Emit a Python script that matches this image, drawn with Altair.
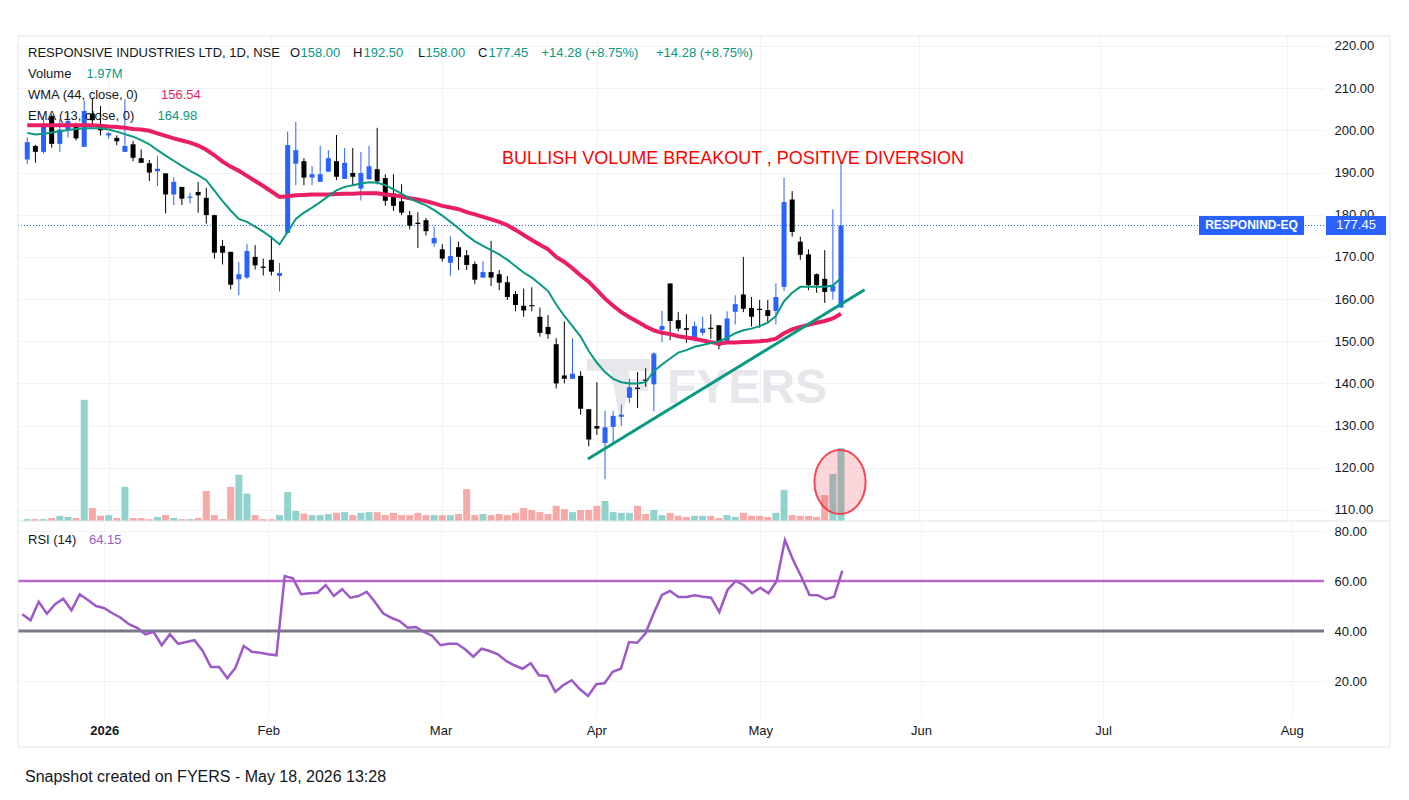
import altair as alt
import pandas as pd

# ---------------- data ----------------
OPEN = [193.1, 196.3, 194.9, 203.2, 196.8, 200.2, 201.2, 196.1, 204.0, 201.0,
        198.8, 198.2, 194.9, 196.7, 193.4, 192.2, 190.3, 189.8, 184.8, 186.6,
        184.0, 185.4, 184.0, 179.9, 172.6, 171.2, 164.7, 165.1, 170.0, 167.7,
        169.3, 165.5, 175.7, 192.1, 192.7, 188.8, 187.8, 190.2, 192.7, 188.5,
        189.9, 186.2, 188.4, 190.8, 188.7, 185.1, 183.2, 179.9, 178.1, 178.7,
        173.2, 171.8, 168.6, 172.3, 170.4, 168.3, 165.1, 166.4, 165.9, 164.0,
        161.2, 158.4, 158.6, 155.8, 153.4, 149.3, 141.9, 141.1, 141.8, 133.9,
        129.9, 125.9, 129.7, 132.1, 136.6, 139.0, 140.9, 139.8, 152.7, 163.7,
        155.0, 153.1, 150.6, 152.0, 153.2, 153.8, 149.8, 157.0, 161.1, 157.9,
        157.7, 157.4, 157.2, 162.9, 183.6, 173.6, 170.6, 165.9, 164.8, 161.8,
        158.0]
HIGH = [198.3, 196.6, 203.4, 203.8, 202.6, 204.2, 201.8, 207.0, 207.5, 205.8,
        199.6, 198.8, 207.4, 197.5, 195.5, 193.0, 193.9, 189.8, 188.9, 186.6,
        185.2, 187.8, 186.4, 180.0, 174.0, 171.2, 168.8, 173.1, 172.8, 169.6,
        174.9, 168.6, 199.7, 202.0, 193.4, 191.5, 196.3, 195.3, 198.9, 195.8,
        195.8, 194.9, 196.3, 200.6, 189.6, 189.6, 187.2, 180.9, 180.6, 179.2,
        177.2, 173.0, 174.9, 173.6, 171.6, 168.9, 169.0, 173.8, 166.9, 165.5,
        161.9, 162.5, 162.8, 158.0, 156.2, 150.7, 154.7, 150.7, 142.9, 133.9,
        140.3, 133.5, 133.5, 135.0, 141.1, 142.7, 143.6, 147.4, 157.2, 163.7,
        156.9, 156.4, 154.7, 155.8, 156.4, 153.8, 157.1, 160.9, 170.0, 160.5,
        159.8, 159.8, 163.7, 188.8, 185.6, 174.8, 171.8, 166.1, 171.6, 181.3,
        192.5]
LOW = [192.0, 192.3, 194.5, 195.9, 194.9, 198.3, 197.6, 196.1, 201.5, 198.8,
       198.0, 196.5, 194.9, 192.7, 192.3, 188.0, 186.8, 180.3, 182.3, 182.3,
       182.7, 180.5, 177.9, 169.6, 168.2, 162.3, 160.9, 164.8, 167.0, 165.6,
       165.6, 161.8, 175.7, 187.0, 187.0, 187.0, 187.8, 190.2, 188.2, 188.5,
       186.8, 183.4, 188.4, 187.2, 182.1, 180.9, 179.9, 176.5, 172.1, 175.1,
       172.4, 168.9, 165.5, 166.9, 166.9, 163.6, 165.1, 163.1, 162.1, 159.8,
       157.1, 155.8, 157.1, 151.1, 150.6, 138.8, 140.0, 141.1, 132.6, 125.1,
       127.8, 117.3, 125.9, 129.9, 135.4, 134.2, 139.2, 133.4, 149.8, 150.3,
       152.4, 149.6, 150.0, 151.4, 150.6, 148.1, 149.3, 154.0, 156.9, 153.5,
       153.2, 154.6, 154.0, 161.9, 174.8, 169.3, 162.1, 161.5, 159.1, 159.9,
       158.0]
CLOSE = [197.2, 194.9, 201.4, 196.8, 200.2, 202.2, 198.1, 204.6, 202.4, 200.0,
         199.3, 197.4, 196.3, 193.5, 192.3, 190.0, 190.9, 184.8, 187.8, 183.8,
         184.3, 184.6, 179.9, 171.0, 171.0, 163.4, 165.9, 171.4, 168.0, 167.4,
         166.5, 166.2, 196.5, 195.3, 188.8, 189.6, 189.6, 193.4, 189.0, 192.3,
         189.0, 189.9, 191.5, 187.9, 183.3, 182.1, 180.5, 177.4, 177.8, 176.1,
         174.5, 169.6, 170.2, 170.0, 168.1, 164.6, 166.4, 165.1, 163.9, 160.5,
         158.6, 157.3, 158.3, 152.0, 151.7, 140.0, 141.1, 142.3, 134.0, 126.7,
         129.3, 129.6, 132.3, 132.6, 139.1, 138.7, 140.6, 147.1, 153.6, 154.8,
         153.0, 152.7, 153.6, 153.0, 152.9, 149.0, 155.4, 158.8, 157.7, 155.8,
         157.4, 156.0, 160.5, 183.0, 175.9, 170.5, 163.3, 163.3, 161.7, 163.1,
         177.45]
VOLUME_M = [0.05, 0.05, 0.05, 0.08, 0.14, 0.11, 0.08, 3.27, 0.35, 0.14,
            0.16, 0.08, 0.92, 0.08, 0.08, 0.05, 0.11, 0.16, 0.08, 0.05,
            0.05, 0.08, 0.81, 0.16, 0.05, 0.92, 1.25, 0.74, 0.16, 0.05,
            0.05, 0.16, 0.78, 0.27, 0.20, 0.16, 0.16, 0.19, 0.22, 0.24,
            0.16, 0.22, 0.24, 0.24, 0.16, 0.22, 0.16, 0.16, 0.22, 0.16,
            0.16, 0.16, 0.16, 0.19, 0.86, 0.16, 0.19, 0.16, 0.19, 0.16,
            0.22, 0.35, 0.30, 0.24, 0.19, 0.41, 0.32, 0.24, 0.30, 0.30,
            0.41, 0.54, 0.24, 0.22, 0.22, 0.41, 0.19, 0.30, 0.16, 0.22,
            0.14, 0.11, 0.14, 0.14, 0.14, 0.08, 0.16, 0.11, 0.22, 0.14,
            0.14, 0.11, 0.22, 0.84, 0.16, 0.14, 0.14, 0.11, 0.70, 1.27,
            1.97]
EMA13 = [199.4, 199.0, 199.2, 199.5, 199.8, 200.1, 200.3, 200.5, 200.5, 200.5,
         200.2, 199.7, 199.1, 198.5, 197.7, 196.7, 195.3, 194.0, 192.8, 191.6,
         190.4, 189.4, 188.2, 185.7, 183.2, 181.0, 179.0, 178.3, 177.2, 176.0,
         174.6, 173.0, 175.9, 179.0, 180.5, 181.7, 183.0, 184.4, 185.8, 186.6,
         187.0, 187.4, 187.7, 187.6, 187.0, 186.0, 185.0, 183.8, 183.0, 182.2,
         181.1, 179.8, 178.3, 176.8, 175.1, 173.7, 172.6, 171.6, 170.6, 169.3,
         167.8, 166.3, 165.1, 163.5, 161.9, 158.7, 156.0, 153.6, 151.1, 147.7,
         144.9, 142.7, 141.1, 140.3, 140.0, 140.0, 140.3, 142.9, 144.5, 145.9,
         147.3, 147.9, 148.7, 149.1, 149.6, 150.0, 150.8, 151.9, 152.6, 153.0,
         153.6, 154.4, 156.0, 159.5, 161.5, 162.9, 162.9, 162.9, 162.9, 163.2,
         164.98]
WMA44 = [201.2, 201.2, 201.2, 201.2, 201.2, 201.2, 201.2, 201.2, 201.2, 201.1,
         200.9, 200.8, 200.6, 200.3, 200.2, 199.9, 199.3, 198.7, 198.1, 197.6,
         197.1, 196.4, 195.4, 194.1, 192.6, 191.4, 190.4, 189.2, 188.0, 186.8,
         185.5, 184.2, 184.4, 184.6, 184.7, 184.8, 184.8, 184.8, 184.9, 185.0,
         185.0, 185.1, 185.1, 185.1, 184.8, 184.6, 184.3, 183.9, 183.6, 183.2,
         182.7, 182.1, 181.7, 181.3, 180.6, 180.1, 179.5, 178.9, 178.3, 177.5,
         176.4, 175.2, 174.0, 172.9, 171.8, 170.0, 168.8, 167.3, 165.6, 164.1,
         162.1, 160.1, 158.4, 156.9, 155.7, 154.6, 153.5, 152.6, 152.0, 151.7,
         151.2, 150.9, 150.6, 150.2, 149.8, 149.5, 149.7, 149.7, 149.8, 149.9,
         150.0, 150.2, 150.6, 151.9, 152.8, 153.4, 153.9, 154.4, 154.8, 155.4,
         156.54]
RSI14 = [46.7, 44.3, 51.7, 46.9, 50.7, 52.9, 48.3, 54.7, 52.4, 50.0,
         49.1, 47.1, 45.3, 42.7, 41.3, 38.7, 39.7, 34.3, 38.7, 34.9,
         35.6, 36.3, 32.0, 25.6, 25.6, 21.1, 25.3, 34.0, 31.7, 31.3,
         30.7, 30.3, 62.0, 61.1, 54.7, 55.1, 55.3, 58.4, 54.0, 56.7,
         53.3, 54.0, 55.7, 51.6, 47.1, 45.3, 44.0, 41.3, 41.6, 39.6,
         38.0, 34.3, 34.9, 34.9, 32.7, 29.7, 32.9, 32.0, 30.7, 28.0,
         26.3, 24.9, 27.1, 22.3, 22.0, 15.7, 18.4, 20.3, 16.7, 14.0,
         18.7, 19.1, 23.7, 24.9, 35.6, 35.3, 39.1, 47.1, 54.4, 56.0,
         53.6, 53.6, 54.3, 53.7, 53.3, 47.6, 56.4, 60.0, 58.3, 55.1,
         57.3, 55.1, 60.0, 76.4, 68.4, 61.7, 54.4, 54.3, 52.7, 53.7,
         64.15]

MONTH_POS = [10, 30, 51, 70, 90, 109.6, 131.8, 154.8]
MONTH_LABELS = ["2026", "Feb", "Mar", "Apr", "May", "Jun", "Jul", "Aug"]
PRICE_TICKS = [110, 120, 130, 140, 150, 160, 170, 180, 190, 200, 210, 220]
RSI_TICKS = [20, 40, 60, 80]
RSI_UPPER = [60]
RSI_LOWER = [40]
TREND_X = [68.9, 102.9]
TREND_Y = [122.1, 162.2]

# ---------------- styling / layout ----------------
FONT = "Liberation Sans, Arial, sans-serif"
TXT = "#131722"
GRID = "#f0f3fa"
FRAME = "#e0e3eb"
UP = "#2962ff"
DOWN = "#000000"
VOL_UP = "#92d2cc"
VOL_DOWN = "#f7a9a7"
TEAL = "#089981"
WMA_C = "#e91e63"
RSI_C = "#9c59c7"

W = 1306
H_MAIN = 485
H_RSI = 195
X_DOMAIN = [-0.524, 158.74]
P_DOMAIN = [107.39, 222.37]
V_DOMAIN = [0, 13.09]
R_DOMAIN = [5.6, 83.6]

df = pd.DataFrame({
    "i": list(range(len(CLOSE))),
    "open": OPEN, "high": HIGH, "low": LOW, "close": CLOSE,
    "vol": VOLUME_M, "ema": EMA13, "wma": WMA44, "rsi": RSI14,
})
df["dir"] = ["up" if c >= o else "down" for o, c in zip(OPEN, CLOSE)]
one = pd.DataFrame({"k": [0]})

xs = alt.Scale(domain=X_DOMAIN, nice=False, zero=False)
x_main = alt.X("i:Q", scale=xs, title=None,
               axis=alt.Axis(values=MONTH_POS, labels=False, ticks=False, domain=False,
                             grid=True, gridColor=GRID, title=None))
ps = alt.Scale(domain=P_DOMAIN, nice=False, zero=False)
p_axis = alt.Axis(values=PRICE_TICKS, format=".2f", orient="right", title=None,
                  ticks=False, domain=False, labelPadding=10, grid=True, gridColor=GRID,
                  labelFontSize=13, labelColor=TXT, labelFont=FONT)


def py(field):
    return alt.Y(field, scale=ps, axis=p_axis, title=None)


def label(text, x, y, color=TXT, size=13, weight="normal", align="left", font=FONT):
    return alt.Chart(one).mark_text(
        text=text, align=align, baseline="middle", fontSize=size,
        fontWeight=weight, color=color, font=font
    ).encode(x=alt.value(x), y=alt.value(y))


def frame(x1, x2, y1, y2):
    return alt.Chart(one).mark_rule(color=FRAME, strokeWidth=1).encode(
        x=alt.value(x1), x2=alt.value(x2), y=alt.value(y1), y2=alt.value(y2))


base = alt.Chart(df)
cand_color = alt.condition("datum.dir == 'up'", alt.value(UP), alt.value(DOWN))

volume = base.mark_bar(size=7).encode(
    x=x_main,
    y=alt.Y("vol:Q", scale=alt.Scale(domain=V_DOMAIN, nice=False), axis=None, title=None),
    color=alt.condition("datum.dir == 'up'", alt.value(VOL_UP), alt.value(VOL_DOWN)),
)

logo_path = ("M-0.97,-0.97 L1,-0.97 L1,-0.59 L0.34,-0.59 L0.34,-0.34 L0.94,-0.34 "
             "L0.94,0.03 L0.34,0.03 L0.06,0.97 L-0.22,-0.59 L-0.97,-0.59 Z")
logo = alt.Chart(one).mark_point(shape=logo_path, size=4096, filled=True,
                                 color="#e6e8ec", opacity=1).encode(
    x=alt.value(600), y=alt.value(354))
watermark = label("FYERS", 729, 353, color="#e5e7eb", size=48, weight="bold", align="center")

last = pd.DataFrame({"p": [CLOSE[-1]]})
price_line = alt.Chart(last).mark_rule(color=UP, strokeWidth=1, strokeDash=[1, 2]).encode(y=py("p:Q"))

wicks = base.mark_rule(strokeWidth=1).encode(x=x_main, y=py("low:Q"), y2="high:Q", color=cand_color)
bodies = base.mark_bar(size=5).encode(x=x_main, y=py("open:Q"), y2="close:Q", color=cand_color)
wma = base.mark_line(color=WMA_C, strokeWidth=4).encode(x=x_main, y=py("wma:Q"))
ema = base.mark_line(color=TEAL, strokeWidth=2).encode(x=x_main, y=py("ema:Q"))
trend = alt.Chart(pd.DataFrame({"i": TREND_X, "p": TREND_Y})).mark_line(
    color=TEAL, strokeWidth=3).encode(x=x_main, y=py("p:Q"))

ellipse_path = ("M0.8,0 C0.8,0.5523 0.4418,1 0,1 C-0.4418,1 -0.8,0.5523 -0.8,0 "
                "C-0.8,-0.5523 -0.4418,-1 0,-1 C0.4418,-1 0.8,-0.5523 0.8,0 Z")
ellipse = alt.Chart(one).mark_point(shape=ellipse_path, size=4096, filled=True,
                                    fill="#f23645", fillOpacity=0.2, stroke="#f23645",
                                    strokeWidth=2, strokeOpacity=0.9, opacity=1).encode(
    x=alt.value(822), y=alt.value(446))

annot = label("BULLISH VOLUME BREAKOUT , POSITIVE DIVERSION", 715, 123,
              color="#ff0000", size=18, align="center")

box1_path = "M-1,-0.181 L1,-0.181 L1,0.181 L-1,0.181 Z"
box2_path = "M-1,-0.317 L1,-0.317 L1,0.317 L-1,0.317 Z"
box1 = alt.Chart(last).mark_point(shape=box1_path, size=11025, filled=True, color=UP,
                                  opacity=1).encode(x=alt.value(1233.5), y=py("p:Q"))
box1_t = alt.Chart(last).mark_text(text="RESPONIND-EQ", color="white", fontWeight="bold",
                                   fontSize=12, font=FONT).encode(x=alt.value(1233.5), y=py("p:Q"))
box2 = alt.Chart(last).mark_point(shape=box2_path, size=3600, filled=True, color=UP,
                                  opacity=1).encode(x=alt.value(1338), y=py("p:Q"))
box2_t = alt.Chart(last).mark_text(color="white", fontSize=13, font=FONT).encode(
    x=alt.value(1338), y=py("p:Q"), text=alt.Text("p:Q", format=".2f"))

legend = [
    label("RESPONSIVE INDUSTRIES LTD, 1D, NSE", 10, 17),
    label("O", 272, 17), label("158.00", 282.5, 17, TEAL),
    label("H", 335, 17), label("192.50", 345.5, 17, TEAL),
    label("L", 400, 17), label("158.00", 407.5, 17, TEAL),
    label("C", 460, 17), label("177.45", 470.5, 17, TEAL),
    label("+14.28 (+8.75%)", 523.5, 17, TEAL),
    label("+14.28 (+8.75%)", 638, 17, TEAL),
    label("Volume", 10, 38), label("1.97M", 68.5, 38, TEAL),
    label("WMA (44, close, 0)", 10, 59), label("156.54", 143, 59, WMA_C),
    label("EMA (13, close, 0)", 10, 80), label("164.98", 139.5, 80, TEAL),
]

frames_main = [
    frame(0, 1372, 0, 0),
    frame(0, 0, 0, 485),
    frame(1372, 1372, 0, 485),
    frame(0, 1372, 485, 485),
]

price_layers = alt.layer(
    logo, watermark, price_line, wicks, bodies, wma, ema, trend, ellipse, annot,
    box1, box1_t, box2, box2_t, *legend, *frames_main
)
price_panel = alt.layer(volume, price_layers).resolve_scale(y="independent").properties(
    width=W, height=H_MAIN)

# ---------------- RSI panel ----------------
label_expr = " : ".join(
    f"datum.value == {v} ? '{t}'" for v, t in zip(MONTH_POS, MONTH_LABELS)) + " : ''"
x_rsi = alt.X("i:Q", scale=xs, title=None,
              axis=alt.Axis(values=MONTH_POS, labelExpr=label_expr, ticks=False, domain=False,
                            grid=True, gridColor=GRID, labelPadding=7, labelFontSize=13,
                            labelColor=TXT, labelFont=FONT, title=None,
                            labelFontWeight=alt.condition(f"datum.value == {MONTH_POS[0]}",
                                                          alt.value("bold"), alt.value("normal"))))
rs = alt.Scale(domain=R_DOMAIN, nice=False, zero=False)
r_axis = alt.Axis(values=RSI_TICKS, format=".2f", orient="right", title=None, ticks=False,
                  domain=False, labelPadding=10, grid=True, gridColor=GRID,
                  labelFontSize=13, labelColor=TXT, labelFont=FONT)


def ry(field):
    return alt.Y(field, scale=rs, axis=r_axis, title=None)


rsi_line = base.mark_line(color=RSI_C, strokeWidth=2.5).encode(x=x_rsi, y=ry("rsi:Q"))
upper = alt.Chart(pd.DataFrame({"lvl": RSI_UPPER})).mark_rule(
    color="#ba68c8", strokeWidth=2.5).encode(y=ry("lvl:Q"))
lower = alt.Chart(pd.DataFrame({"lvl": RSI_LOWER})).mark_rule(
    color="#787b86", strokeWidth=3).encode(y=ry("lvl:Q"))

rsi_panel = alt.layer(
    upper, lower, rsi_line,
    label("RSI (14)", 10, 18), label("64.15", 71, 18, RSI_C),
    label("Snapshot created on FYERS - May 18, 2026 13:28", 7, 255, size=16),
    frame(0, 0, 0, 225), frame(1372, 1372, 0, 225), frame(0, 1372, 225, 225),
).properties(width=W, height=H_RSI)

chart = alt.vconcat(price_panel, rsi_panel, spacing=-2).properties(
    padding={"left": 8, "top": 27, "right": 5, "bottom": 5},
    background="white",
).configure_view(stroke=None)

chart.save("out.html", embed_options={"renderer": "svg", "actions": False})
